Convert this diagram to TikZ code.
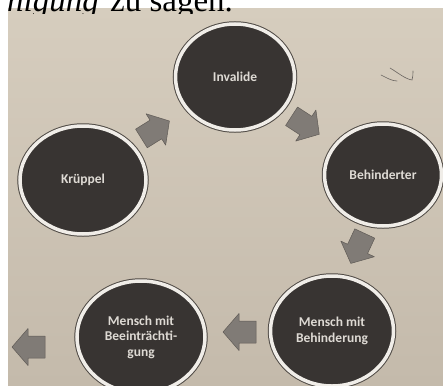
\documentclass[tikz,border=0pt]{standalone}
\usepackage{fontspec}
\setmainfont{Liberation Serif}
\newfontfamily\discfont{Carlito}
\usetikzlibrary{shapes.geometric}
\definecolor{bgtop}{RGB}{214,205,190}
\definecolor{bgbot}{RGB}{196,186,171}
\definecolor{discfill}{RGB}{56,52,50}
\definecolor{ringwhite}{RGB}{240,237,232}
\definecolor{discline}{RGB}{80,75,70}
\definecolor{disctext}{RGB}{222,218,212}
\definecolor{arrowgray}{RGB}{128,123,118}
\definecolor{arrowedge}{RGB}{96,91,86}
\definecolor{pencil}{RGB}{105,100,96}
\tikzset{
  disc/.style={ellipse, fill=discfill, draw=ringwhite, line width=3.5pt,
    preaction={draw=discline, line width=5.5pt},
    text=disctext, font=\discfont\bfseries\fontsize{13.5}{15.5}\selectfont,
    align=center, inner sep=0pt},
  arrowshape/.style={fill=arrowgray, draw=arrowedge, line width=0.5pt, line join=round},
  blockarrow/.pic={\path[arrowshape] (-16,-11) -- (1,-11) -- (1,-18.5) -- (17,0) -- (1,18.5) -- (1,11) -- (-16,11) -- cycle;},
  pencilline/.style={draw=pencil, line width=0.6pt, line cap=round}
}
\begin{document}
\begin{tikzpicture}[x=1pt,y=-1pt]
\useasboundingbox (0,0) rectangle (443,385);
\clip (0,0) rectangle (443,385);
\fill[white] (0,0) rectangle (443,385);
\shade[top color=bgtop, bottom color=bgbot] (8,8) rectangle (443,385);
% heading fragment, cut at the top and bottom
\begin{scope}
\clip (0,0) rectangle (443,14);
\fill[white] (0,0) rectangle (443,8);
\node[anchor=base east, inner sep=0pt, font=\fontsize{33}{33}\selectfont\itshape] (head1) at (99,12) {nigung};
\node[anchor=base west, inner sep=0pt, font=\fontsize{33}{33}\selectfont] (head2) at (110,12) {zu sagen.};
\end{scope}
% discs
\node[disc, minimum width=119pt, minimum height=106pt] (inv) at (235,77) {Invalide};
\node[disc, minimum width=126pt, minimum height=108pt] (kru) at (83,180) {Krüppel};
\node[disc, minimum width=117pt, minimum height=102pt] (beh) at (383,175) {Behinderter};
\node[disc, minimum width=123pt, minimum height=110pt] (mmb) at (332,331) {Mensch mit\\Behinderung};
\node[disc, minimum width=128pt, minimum height=112pt] (mmbe) at (141,337) {Mensch mit\\Beeinträchti-\\gung};
% arrows
\pic[rotate=32] (a1) at (155,130) {blockarrow};
\pic[rotate=-33] (a2) at (305,125) {blockarrow};
\pic[rotate=-115] (a3) at (358,248) {blockarrow};
\pic[rotate=180] (a4) at (240,332) {blockarrow};
\pic[rotate=180] (a5) at (29,347) {blockarrow};
% pencil mark
\draw[pencilline] (381,75) .. controls (387,78) and (392,81) .. (397,81);
\draw[pencilline] (390,68) .. controls (397,72) and (405,79) .. (412,80) .. controls (413,77) and (413,74) .. (413,71);
\end{tikzpicture}
\end{document}
